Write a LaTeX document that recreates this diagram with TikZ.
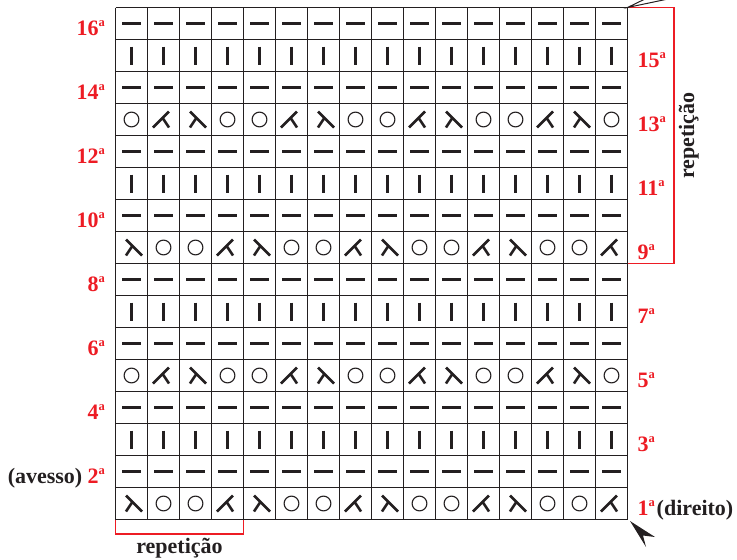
\documentclass[tikz,border=0pt]{standalone}
\usepackage{fontspec}
\setmainfont{Liberation Serif}
\definecolor{rred}{HTML}{ED1C24}
\definecolor{ink}{HTML}{231F20}
\newcommand\ordA{\raisebox{8.5pt}{\fontsize{12.5}{12.5}\selectfont a}}
\tikzset{
  gridline/.style={draw=ink, line width=1pt},
  sym/.style={draw=ink, line width=2.6pt},
  thinsym/.style={draw=ink, line width=1.1pt},
  lab/.style={text=rred, font=\bfseries\fontsize{22}{26}\selectfont, inner sep=0pt},
  blab/.style={text=ink, font=\bfseries\fontsize{22}{26}\selectfont, inner sep=0pt},
  bracket/.style={draw=rred, line width=1.2pt},
  pdash/.pic={\draw[sym] (-9.5,0) -- (9.5,0);},
  kbar/.pic={\draw[sym] (0,-9) -- (0,9);},
  yarn/.pic={\draw[thinsym] (0,0) circle (7.4);},
  decl/.pic={\draw[sym] (-5.5,-8) -- (10.5,8) (0.9,-1.6) -- (-5.5,8);},
  decr/.pic={\draw[sym] (5.5,-8) -- (-10.5,8) (-0.9,-1.6) -- (5.5,8);}
}
\begin{document}
\begin{tikzpicture}[x=1pt,y=-1pt]
\useasboundingbox (0,0) rectangle (737,560);
% grid
\foreach \i in {0,...,16}{
  \draw[gridline] (115.5+32*\i,7.5) -- (115.5+32*\i,519.5);
  \draw[gridline] (115.5,7.5+32*\i) -- (627.5,7.5+32*\i);
}
% symbols
\foreach \r in {1,...,16}{
  \pgfmathsetmacro\yy{535.5-32*\r}
  \pgfmathtruncatemacro\m{mod(\r,4)}
  \pgfmathtruncatemacro\e{mod(\r,8)}
  \foreach \c in {1,...,16}{
    \pgfmathsetmacro\xx{115.5+32*\c-16}
    \pgfmathtruncatemacro\k{mod(\c-1,4)}
    \ifodd\r
      \ifnum\m=3
        \pic at (\xx,\yy) {kbar};
      \else
        \ifnum\e=1
          \ifnum\k=0 \pic at (\xx,\yy) {decl};\fi
          \ifnum\k=1 \pic at (\xx,\yy) {yarn};\fi
          \ifnum\k=2 \pic at (\xx,\yy) {yarn};\fi
          \ifnum\k=3 \pic at (\xx,\yy) {decr};\fi
        \else
          \ifnum\k=0 \pic at (\xx,\yy) {yarn};\fi
          \ifnum\k=1 \pic at (\xx,\yy) {decr};\fi
          \ifnum\k=2 \pic at (\xx,\yy) {decl};\fi
          \ifnum\k=3 \pic at (\xx,\yy) {yarn};\fi
        \fi
      \fi
    \else
      \pic at (\xx,\yy) {pdash};
    \fi
  }
}
% row labels
\foreach \r in {2,4,...,16}{
  \node[lab, anchor=base east] (L\r) at (105,547-32*\r) {\r\ordA};
}
\foreach \r in {1,3,...,15}{
  \node[lab, anchor=base west] (R\r) at (637.5,547-32*\r) {\r\ordA};
}
\node[blab, anchor=base east] (avesso) at (82.5,483) {(avesso)};
\node[blab, anchor=base west] (direito) at (656.5,515) {(direito)};
% brackets
\draw[bracket] (627.5,7.5) -- (674,7.5) -- (674,263.5) -- (627.5,263.5);
\draw[bracket] (115.5,519.5) -- (115.5,534) -- (243.5,534) -- (243.5,519.5);
\node[blab, anchor=base] (repb) at (179.5,553) {repetição};
\node[blab, anchor=base, rotate=90] (repr) at (694,135.5) {repetição};
% arrows
\coordinate (tr) at (627.5,7.5);
\coordinate (tra) at (645,-1);
\coordinate (trb) at (668,-1);
\draw[ink, line width=1pt] (tra) -- (tr) -- (trb);
\fill[ink] (630,521) -- (646,547) -- (643,535.5) -- (655,537) -- cycle;
\end{tikzpicture}
\end{document}
